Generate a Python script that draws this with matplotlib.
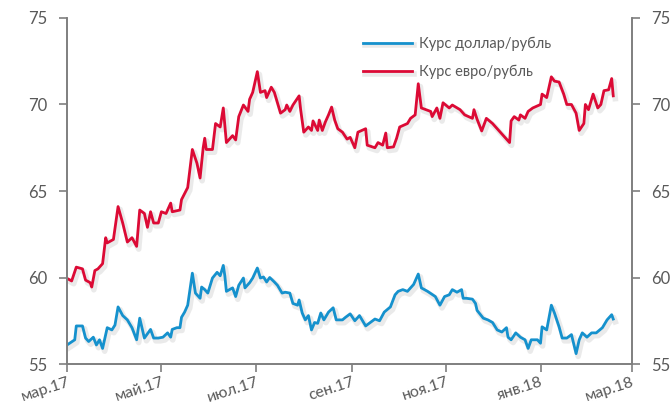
import numpy as np
import pandas as pd
import matplotlib
matplotlib.use('Agg')
import matplotlib.pyplot as plt
import matplotlib.dates as mdates
import matplotlib.patheffects as pe

# курс евро/рубль
eur_dates = ['2017-03-01', '2017-03-04', '2017-03-07', '2017-03-11', '2017-03-13', '2017-03-16',
             '2017-03-17', '2017-03-19', '2017-03-21', '2017-03-24', '2017-03-26', '2017-03-27',
             '2017-03-31', '2017-04-03', '2017-04-06', '2017-04-09', '2017-04-12', '2017-04-15',
             '2017-04-17', '2017-04-20', '2017-04-22', '2017-04-24', '2017-04-26', '2017-04-29',
             '2017-05-01', '2017-05-04', '2017-05-07', '2017-05-08', '2017-05-13', '2017-05-14',
             '2017-05-18', '2017-05-21', '2017-05-24', '2017-05-26', '2017-05-28', '2017-05-29',
             '2017-05-30', '2017-06-03', '2017-06-05', '2017-06-08', '2017-06-10', '2017-06-12',
             '2017-06-16', '2017-06-18', '2017-06-20', '2017-06-23', '2017-06-26', '2017-06-27',
             '2017-06-29', '2017-07-02', '2017-07-04', '2017-07-07', '2017-07-08', '2017-07-11',
             '2017-07-13', '2017-07-15', '2017-07-17', '2017-07-20', '2017-07-21', '2017-07-23',
             '2017-07-25', '2017-07-29', '2017-07-30', '2017-08-01', '2017-08-04', '2017-08-06',
             '2017-08-07', '2017-08-10', '2017-08-11', '2017-08-13', '2017-08-15', '2017-08-17',
             '2017-08-19', '2017-08-21', '2017-08-23', '2017-08-26', '2017-08-29', '2017-08-31',
             '2017-09-03', '2017-09-05', '2017-09-10', '2017-09-11', '2017-09-16', '2017-09-18',
             '2017-09-21', '2017-09-23', '2017-09-24', '2017-09-28', '2017-09-30', '2017-10-02',
             '2017-10-07', '2017-10-09', '2017-10-12', '2017-10-14', '2017-10-16', '2017-10-22',
             '2017-10-23', '2017-10-26', '2017-10-28', '2017-10-30', '2017-11-03', '2017-11-05',
             '2017-11-10', '2017-11-13', '2017-11-18', '2017-11-19', '2017-11-21', '2017-11-24',
             '2017-11-27', '2017-12-01', '2017-12-05', '2017-12-08', '2017-12-12', '2017-12-13',
             '2017-12-15', '2017-12-18', '2017-12-19', '2017-12-22', '2017-12-24', '2017-12-27',
             '2018-01-01', '2018-01-02', '2018-01-05', '2018-01-08', '2018-01-10', '2018-01-13',
             '2018-01-16', '2018-01-18', '2018-01-21', '2018-01-24', '2018-01-26', '2018-01-29',
             '2018-01-30', '2018-02-01', '2018-02-04', '2018-02-07', '2018-02-09', '2018-02-11',
             '2018-02-14', '2018-02-16', '2018-02-17']
eur_vals = [59.95, 59.8, 60.6, 60.5, 59.85, 59.7,
            59.45, 60.4, 60.5, 60.8, 62.3, 62.0,
            62.2, 64.1, 63.15, 62.05, 62.3, 61.8,
            63.9, 63.7, 62.9, 63.8, 63.15, 63.15,
            63.8, 63.7, 64.3, 63.8, 63.9, 64.5,
            65.2, 67.4, 66.6, 65.75, 67.5, 68.05,
            67.4, 67.4, 68.9, 68.7, 69.8, 67.8,
            68.2, 67.95, 69.3, 69.97, 69.6, 70.3,
            70.7, 71.9, 70.7, 70.8, 70.4, 71.0,
            70.7, 70.1, 69.5, 69.7, 69.97, 69.6,
            69.97, 70.5, 69.7, 68.4, 68.7, 68.5,
            69.05, 68.5, 69.1, 68.5, 69.0, 69.4,
            69.85, 69.1, 68.6, 68.4, 68.0, 68.1,
            67.5, 68.4, 68.6, 67.65, 67.5, 67.8,
            67.65, 68.35, 67.5, 67.55, 68.05, 68.7,
            68.9, 69.2, 69.4, 71.2, 69.8, 69.6,
            69.3, 69.8, 69.2, 70.1, 69.8, 69.97,
            69.7, 69.4, 69.2, 69.7, 69.15, 68.47,
            69.2, 68.9, 68.5, 68.2, 67.8, 69.05,
            69.3, 69.1, 69.4, 69.2, 69.6, 69.8,
            70.0, 70.6, 70.4, 71.6, 71.35, 71.3,
            70.6, 70.0, 70.0, 69.5, 68.5, 68.9,
            70.0, 69.7, 70.6, 69.8, 70.0, 70.8,
            70.85, 71.5, 70.5]

# курс доллар/рубль
usd_dates = ['2017-03-01', '2017-03-06', '2017-03-07', '2017-03-11', '2017-03-13', '2017-03-15',
             '2017-03-18', '2017-03-20', '2017-03-22', '2017-03-24', '2017-03-27', '2017-03-30',
             '2017-04-01', '2017-04-03', '2017-04-06', '2017-04-09', '2017-04-12', '2017-04-15',
             '2017-04-17', '2017-04-20', '2017-04-24', '2017-04-26', '2017-04-29', '2017-05-02',
             '2017-05-05', '2017-05-07', '2017-05-08', '2017-05-11', '2017-05-13', '2017-05-14',
             '2017-05-16', '2017-05-18', '2017-05-21', '2017-05-23', '2017-05-26', '2017-05-27',
             '2017-05-29', '2017-05-31', '2017-06-03', '2017-06-06', '2017-06-08', '2017-06-10',
             '2017-06-11', '2017-06-12', '2017-06-16', '2017-06-18', '2017-06-20', '2017-06-23',
             '2017-06-24', '2017-06-27', '2017-06-29', '2017-07-02', '2017-07-04', '2017-07-06',
             '2017-07-08', '2017-07-10', '2017-07-13', '2017-07-15', '2017-07-18', '2017-07-20',
             '2017-07-23', '2017-07-25', '2017-07-28', '2017-07-29', '2017-07-31', '2017-08-02',
             '2017-08-04', '2017-08-06', '2017-08-08', '2017-08-10', '2017-08-12', '2017-08-14',
             '2017-08-17', '2017-08-20', '2017-08-22', '2017-08-26', '2017-08-28', '2017-08-31',
             '2017-09-03', '2017-09-06', '2017-09-10', '2017-09-13', '2017-09-16', '2017-09-19',
             '2017-09-22', '2017-09-26', '2017-09-29', '2017-10-01', '2017-10-04', '2017-10-07',
             '2017-10-11', '2017-10-14', '2017-10-16', '2017-10-20', '2017-10-25', '2017-10-28',
             '2017-10-31', '2017-11-03', '2017-11-05', '2017-11-08', '2017-11-11', '2017-11-12',
             '2017-11-14', '2017-11-18', '2017-11-20', '2017-11-21', '2017-11-25', '2017-11-28',
             '2017-12-01', '2017-12-04', '2017-12-07', '2017-12-10', '2017-12-11', '2017-12-13',
             '2017-12-16', '2017-12-19', '2017-12-22', '2017-12-24', '2017-12-26', '2017-12-30',
             '2018-01-01', '2018-01-02', '2018-01-05', '2018-01-08', '2018-01-10', '2018-01-13',
             '2018-01-15', '2018-01-18', '2018-01-21', '2018-01-24', '2018-01-26', '2018-01-28',
             '2018-01-31', '2018-02-03', '2018-02-06', '2018-02-10', '2018-02-13', '2018-02-16',
             '2018-02-17']
usd_vals = [56.1, 56.4, 57.2, 57.2, 56.5, 56.3,
            56.55, 56.1, 56.4, 55.9, 57.1, 56.97,
            57.25, 58.3, 57.8, 57.55, 57.1, 56.4,
            57.65, 56.5, 57.0, 56.5, 56.5, 56.55,
            56.8, 56.55, 57.0, 57.1, 57.1, 57.7,
            58.0, 58.4, 60.25, 59.1, 58.8, 59.45,
            59.3, 59.1, 59.97, 60.3, 60.1, 60.7,
            60.1, 59.2, 59.4, 58.9, 59.55, 59.97,
            59.4, 59.7, 59.97, 60.55, 59.97, 60.03,
            59.74, 60.0, 59.74, 59.55, 59.1, 59.15,
            59.1, 58.5, 58.4, 58.7, 57.95, 57.55,
            57.8, 56.97, 57.4, 57.35, 57.95, 57.55,
            58.0, 58.25, 57.55, 57.55, 57.7, 57.9,
            57.5, 57.8, 57.2, 57.4, 57.6, 57.5,
            58.0, 58.3, 59.0, 59.2, 59.3, 59.2,
            59.6, 60.2, 59.4, 59.2, 58.9, 58.4,
            58.9, 59.0, 59.3, 59.15, 59.3, 58.8,
            58.8, 58.75, 58.5, 58.1, 57.65, 57.55,
            57.4, 56.97, 56.85, 57.1, 56.55, 56.4,
            56.8, 56.55, 56.4, 55.9, 56.4, 56.4,
            56.2, 57.15, 56.97, 58.4, 57.95, 57.15,
            56.5, 56.5, 56.7, 55.6, 56.4, 56.8,
            56.55, 56.8, 56.8, 57.1, 57.55, 57.85,
            57.6]

tick_dates = ['2017-03-01', '2017-05-01', '2017-07-01', '2017-09-01',
              '2017-11-01', '2018-01-01', '2018-03-01']
tick_labels = ['мар.17', 'май.17', 'июл.17', 'сен.17', 'ноя.17', 'янв.18', 'мар.18']
y_ticks = [55, 60, 65, 70, 75]

plt.rcParams['font.family'] = ['Lato', 'DejaVu Sans']
blue = '#1591CD'
red = '#DC0A35'
grey = '#595959'

fig = plt.figure(figsize=(6.7, 4.09), dpi=100)
ax = fig.add_axes([0.1, 0.11, 0.843, 0.846])
ax2 = ax.twinx()

# мягкая тень под линиями, как в Excel
shadow = [pe.SimpleLineShadow(offset=(1.5, -2), shadow_color='#909090', alpha=0.18, linewidth=4),
          pe.Normal()]
ax.plot(pd.to_datetime(usd_dates), usd_vals, color=blue, lw=2.0,
        label='Курс доллар/рубль', path_effects=shadow)
ax.plot(pd.to_datetime(eur_dates), eur_vals, color=red, lw=2.0,
        label='Курс евро/рубль', path_effects=shadow)

for a in [ax, ax2]:
    a.set_ylim(55, 75)
    a.set_yticks(y_ticks)
    a.spines['top'].set_visible(False)
    for s in ['left', 'right', 'bottom']:
        a.spines[s].set_color('#7F7F7F')
        a.spines[s].set_linewidth(1.2)
    a.tick_params(axis='y', colors='#7F7F7F', labelcolor=grey, labelsize=12, length=6, width=1.2, pad=8)

ax.set_xlim(pd.Timestamp('2017-03-01'), pd.Timestamp('2018-03-01'))
ax.set_xticks(pd.to_datetime(tick_dates))
ax.set_xticklabels(tick_labels, rotation=18, ha='right', rotation_mode='anchor')
ax.tick_params(axis='x', colors='#7F7F7F', labelcolor=grey, labelsize=11.5, length=6, width=1.2, pad=2)

leg = ax.legend(loc='upper left', bbox_to_anchor=(0.5, 0.985), frameon=False,
                fontsize=10.5, handlelength=3.4, labelspacing=1.0, handletextpad=0.5)
for t in leg.get_texts():
    t.set_color(grey)

fig.savefig('out.png', dpi=100)
